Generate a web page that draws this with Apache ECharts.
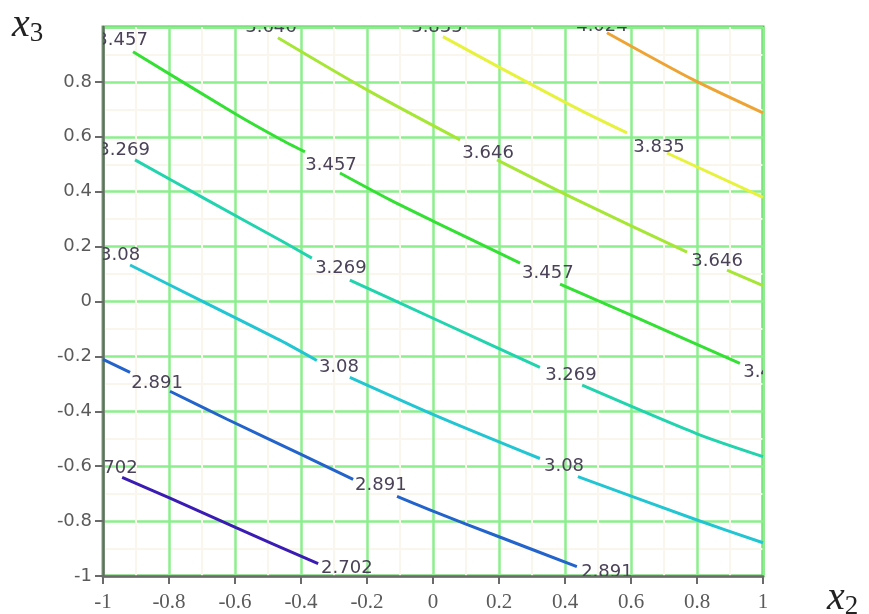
<!DOCTYPE html>
<html>
<head>
<meta charset="utf-8">
<script src="https://cdn.jsdelivr.net/npm/echarts@6/dist/echarts.min.js"></script>
<style>
  html, body { margin: 0; padding: 0; background: #fff; }
  #chart { width: 869px; height: 614px; }
</style>
</head>
<body>
<div id="chart"></div>
<script>
// Contour levels of the response surface over (x2, x3)
const levels = [2.702, 2.891, 3.08, 3.269, 3.457, 3.646, 3.835, 4.024];
const levelText = ['2.702', '2.891', '3.08', '3.269', '3.457', '3.646', '3.835', '4.024'];

// Axis ticks
const xTicks = [-1, -0.8, -0.6, -0.4, -0.2, 0, 0.2, 0.4, 0.6, 0.8, 1];
const yTicks = [-1, -0.8, -0.6, -0.4, -0.2, 0, 0.2, 0.4, 0.6, 0.8, 1];

// Contour polylines, one list of [x2, x3] segments per level (broken where labels sit)
const c2702 = [
  [[-0.942, -0.641], [-0.797, -0.716], [-0.597, -0.824], [-0.348, -0.955]]
];
const c2891 = [
  [[-1.0, -0.211], [-0.918, -0.258]],
  [[-0.797, -0.327], [-0.624, -0.429], [-0.403, -0.555], [-0.242, -0.648]],
  [[-0.109, -0.710], [0.0, -0.764], [0.2, -0.857], [0.436, -0.966]]
];
const c3080 = [
  [[-0.918, 0.133], [-0.706, 0.005], [-0.464, -0.141], [-0.352, -0.215]],
  [[-0.252, -0.276], [0.021, -0.422], [0.324, -0.572]],
  [[0.439, -0.638], [0.8, -0.796], [1.0, -0.879]]
];
const c3269 = [
  [[-0.903, 0.516], [-0.685, 0.370], [-0.464, 0.224], [-0.367, 0.158]],
  [[-0.252, 0.078], [0.0, -0.061], [0.324, -0.240]],
  [[0.452, -0.305], [0.8, -0.482], [1.0, -0.565]]
];
const c3457 = [
  [[-0.909, 0.910], [-0.597, 0.682], [-0.464, 0.592], [-0.388, 0.545]],
  [[-0.282, 0.468], [-0.130, 0.370], [0.0, 0.293], [0.264, 0.140]],
  [[0.385, 0.063], [0.6, -0.050], [0.930, -0.225]]
];
const c3646 = [
  [[-0.470, 0.961], [-0.200, 0.771], [0.082, 0.589]],
  [[0.194, 0.516], [0.436, 0.370], [0.770, 0.180]],
  [[0.891, 0.114], [1.0, 0.058]]
];
const c3835 = [
  [[0.030, 0.965], [0.2, 0.854], [0.445, 0.698], [0.588, 0.614]],
  [[0.709, 0.541], [1.0, 0.379]]
];
const c4024 = [
  [[0.527, 0.979], [0.788, 0.808], [1.0, 0.687]]
];
const contours = [c2702, c2891, c3080, c3269, c3457, c3646, c3835, c4024];

// Label anchor points for each level, in (x2, x3)
const lab2702 = [[-0.973, -0.608], [-0.261, -0.973]];
const lab2891 = [[-0.836, -0.298], [-0.158, -0.670], [0.527, -0.988]];
const lab3080 = [[-0.948, 0.169], [-0.285, -0.240], [0.397, -0.601]];
const lab3269 = [[-0.936, 0.552], [-0.279, 0.122], [0.418, -0.269]];
const lab3457 = [[-0.942, 0.950], [-0.309, 0.497], [0.348, 0.103], [1.018, -0.258]];
const lab3646 = [[-0.491, 0.997], [0.167, 0.541], [0.861, 0.147]];
const lab3835 = [[0.012, 0.997], [0.685, 0.563]];
const lab4024 = [[0.512, 1.001]];
const labelSets = [lab2702, lab2891, lab3080, lab3269, lab3457, lab3646, lab3835, lab4024];

const lineColors = ['#3a1cb4', '#2263cc', '#22c6d2', '#22d4ae', '#34e034', '#a6e634', '#e6f23c', '#eea434'];

const series = [];
contours.forEach(function (segs, li) {
  segs.forEach(function (seg) {
    series.push({
      type: 'line',
      data: seg,
      smooth: 0.25,
      symbol: 'none',
      clip: true,
      silent: true,
      lineStyle: { color: lineColors[li], width: 3 },
      z: 3
    });
  });
});

const labelData = [];
labelSets.forEach(function (pts, li) {
  pts.forEach(function (p) { labelData.push([p[0], p[1], li]); });
});

series.push({
  type: 'custom',
  clip: true,
  silent: true,
  z: 5,
  data: labelData,
  renderItem: function (params, api) {
    const p = api.coord([api.value(0), api.value(1)]);
    return {
      type: 'text',
      x: p[0],
      y: p[1],
      style: {
        text: levelText[api.value(2)],
        fill: '#4a4258',
        font: '18px "DejaVu Sans"',
        align: 'center',
        verticalAlign: 'middle'
      }
    };
  }
});

const chart = echarts.init(document.getElementById('chart'), null, { renderer: 'canvas' });
chart.setOption({
  animation: false,
  backgroundColor: '#ffffff',
  grid: {
    left: 103, right: 106, top: 27, bottom: 38,
    show: true,
    borderColor: '#48c448',
    borderWidth: 3
  },
  xAxis: {
    type: 'value',
    min: xTicks[0], max: xTicks[xTicks.length - 1], interval: 0.2,
    axisLine: { show: true, onZero: false, lineStyle: { color: '#6a6a6a', width: 2.5 } },
    axisTick: { show: true, inside: false, length: 8, lineStyle: { color: '#6a6a6a', width: 2 } },
    axisLabel: { color: '#5a5a5a', fontFamily: 'Liberation Serif', fontSize: 21, margin: 16 },
    splitLine: { show: true, lineStyle: { color: '#8cee8c', width: 2.5 } },
    minorTick: { show: false, splitNumber: 2 },
    minorSplitLine: { show: true, lineStyle: { color: '#faf6ee', width: 2 } }
  },
  yAxis: {
    type: 'value',
    min: yTicks[0], max: yTicks[yTicks.length - 1], interval: 0.2,
    axisLine: { show: true, onZero: false, lineStyle: { color: '#6a6a6a', width: 2.5 } },
    axisTick: { show: true, inside: false, length: 8, lineStyle: { color: '#6a6a6a', width: 2 } },
    axisLabel: { color: '#5a5a5a', fontFamily: 'DejaVu Sans', fontSize: 18, margin: 11, showMaxLabel: false },
    splitLine: { show: true, lineStyle: { color: '#8cee8c', width: 2.5 } },
    minorTick: { show: false, splitNumber: 2 },
    minorSplitLine: { show: true, lineStyle: { color: '#faf6ee', width: 2 } }
  },
  graphic: [
    {
      type: 'text', left: 12, top: 5,
      style: {
        text: '{v|x}{s|3}',
        rich: {
          v: { fontFamily: 'Liberation Serif', fontStyle: 'italic', fontSize: 40, fill: '#222' },
          s: { fontFamily: 'Liberation Serif', fontSize: 27, fill: '#222', padding: [18, 0, 0, 0] }
        }
      }
    },
    {
      type: 'text', left: 827, top: 578,
      style: {
        text: '{v|x}{s|2}',
        rich: {
          v: { fontFamily: 'Liberation Serif', fontStyle: 'italic', fontSize: 40, fill: '#222' },
          s: { fontFamily: 'Liberation Serif', fontSize: 27, fill: '#222', padding: [18, 0, 0, 0] }
        }
      }
    }
  ],
  series: series
});
</script>
</body>
</html>
